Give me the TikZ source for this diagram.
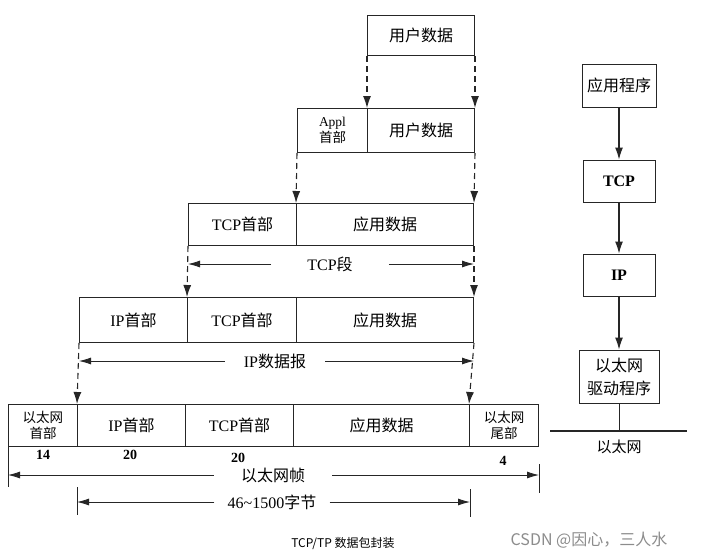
\documentclass[tikz,border=0pt]{standalone}
\usepackage{fontspec}
\setmainfont{Liberation Serif}
\newfontfamily\cjk{Noto Sans CJK SC}
\usetikzlibrary{arrows.meta}
\begin{document}
\begin{tikzpicture}[x=1pt,y=-1pt,
  box/.style={draw=black!85,line width=1pt,inner sep=0pt,anchor=north west,font=\fontsize{16}{18}\selectfont},
  sbox/.style={draw=black!85,line width=1pt,inner sep=0pt,minimum width=72pt,minimum height=42pt,font=\fontsize{16}{18}\selectfont},
  small/.style={font=\fontsize{13.5}{15.5}\selectfont,align=center},
  dasharrow/.style={draw=black!85,line width=1.1pt,dash pattern=on 6pt off 4pt,-{Latex[length=12pt,width=8pt]}},
  solidarrow/.style={draw=black!85,line width=1.1pt,-{Latex[length=12pt,width=8pt]}},
  dimarrow/.style={draw=black!85,line width=0.8pt,-{Latex[length=12pt,width=7pt]}},
  tickline/.style={draw=black!85,line width=0.8pt},
  lbl/.style={inner ysep=0pt,font=\fontsize{16}{18}\selectfont},
  num/.style={font=\bfseries\fontsize{14}{16}\selectfont}]
\fill[white] (0,0) rectangle (702,558);
\useasboundingbox (0,0) rectangle (702,558);
% row 1
\node[box,minimum width=107pt,minimum height=40pt] (u1) at (367,15) {\cjk 用户数据};
% row 2
\node[box,small,minimum width=70pt,minimum height=44pt] (ap) at (297,108) {Appl\\\cjk 首部};
\node[box,minimum width=107pt,minimum height=44pt] (u2) at (367,108) {\cjk 用户数据};
% row 3
\node[box,minimum width=108pt,minimum height=42pt] (tcph) at (188,203) {TCP\cjk 首部};
\node[box,minimum width=177pt,minimum height=42pt] (app3) at (296,203) {\cjk 应用数据};
% row 4
\node[box,minimum width=108pt,minimum height=45pt] (iph4) at (79,297) {IP\cjk 首部};
\node[box,minimum width=109pt,minimum height=45pt] (tcph4) at (187,297) {TCP\cjk 首部};
\node[box,minimum width=177pt,minimum height=45pt] (app4) at (296,297) {\cjk 应用数据};
% row 5
\node[box,small,minimum width=69pt,minimum height=42pt] (eh) at (8,404) {\cjk 以太网\\\cjk 首部};
\node[box,minimum width=108pt,minimum height=42pt] (iph5) at (77,404) {IP\cjk 首部};
\node[box,minimum width=108pt,minimum height=42pt] (tcph5) at (185,404) {TCP\cjk 首部};
\node[box,minimum width=176pt,minimum height=42pt] (app5) at (293,404) {\cjk 应用数据};
\node[box,small,minimum width=69pt,minimum height=42pt] (et) at (469,404) {\cjk 以太网\\\cjk 尾部};
% dashed arrows
\draw[dasharrow] (u1.south west) -- (u2.north west);
\draw[dasharrow] (u1.south east) -- (u2.north east);
\draw[dasharrow] (ap.south west) -- (app3.north west);
\draw[dasharrow] (u2.south east) -- (app3.north east);
\draw[dasharrow] (tcph.south west) -- (tcph4.north west);
\draw[dasharrow] (app3.south east) -- (app4.north east);
\draw[dasharrow] (iph4.south west) -- (iph5.north west);
\draw[dasharrow] (app4.south east) -- (et.north west);
% dimension lines
\node[lbl,inner xsep=36pt] (tseg) at (330,264) {TCP\cjk 段};
\draw[dimarrow] (tseg.west) -- (tcph.south west |- tseg.west);
\draw[dimarrow] (tseg.east) -- (app3.south east |- tseg.east);
\node[lbl,inner xsep=19pt] (ipd) at (275,361) {IP\cjk 数据报};
\draw[dimarrow] (ipd.west) -- (iph4.south west |- ipd.west);
\draw[dimarrow] (ipd.east) -- (app4.south east |- ipd.east);
% numbers
\node[num] (n1) at (43,455) {14};
\node[num] (n2) at (130,455) {20};
\node[num] (n3) at (238,458) {20};
\node[num] (n4) at (503,461) {4};
% frame
\node[lbl,inner xsep=27pt] (ef) at (273,475) {\cjk 以太网帧};
\draw[dimarrow] (ef.west) -- (eh.south west |- ef.west);
\draw[dimarrow] (ef.east) -- (et.south east |- ef.east);
\draw[tickline] (eh.south west) -- ++(0,40);
\draw[tickline] (et.south east) ++(0,17) -- ++(0,29);
\node[lbl,inner xsep=13pt] (pl) at (272,502) {46\textasciitilde 1500\cjk 字节};
\draw[dimarrow] (pl.west) -- (iph5.south west |- pl.west);
\draw[dimarrow] (pl.east) -- (app5.south east |- pl.east);
\draw[tickline] (iph5.south west |- pl.west) ++(0,-15) -- ++(0,28);
\draw[tickline] (app5.south east |- pl.east) ++(0,-13) -- ++(0,28);
% right stack
\node[sbox,minimum width=74pt,minimum height=43pt] (sapp) at (619,85.5) {\cjk 应用程序};
\node[sbox] (stcp) at (619,181) {\bfseries TCP};
\node[sbox] (sip) at (619,275) {\bfseries IP};
\node[sbox,minimum width=80pt,minimum height=53pt,align=center,font=\fontsize{16}{23}\selectfont] (drv) at (619,376.5) {\cjk 以太网\\\cjk 驱动程序};
\draw[solidarrow] (sapp) -- (stcp);
\draw[solidarrow] (stcp) -- (sip);
\draw[solidarrow] (sip) -- (drv);
\coordinate (eL) at (550,431);
\coordinate (eR) at (687,431);
\draw[line width=2.2pt,black!85] (eL) -- (eR);
\draw[line width=1pt,black!85] (drv.south) -- (drv.south |- eL);
\node[font=\fontsize{15}{17}\selectfont] (enet) at (619,447) {\cjk 以太网};
% captions
\node[font=\cjk\fontsize{12}{14}\selectfont] (title) at (343,543) {TCP/TP 数据包封装};
\node[text=black!45,font=\cjk\fontsize{16}{18}\selectfont] (wm) at (589,540) {CSDN @因心，三人水};
\end{tikzpicture}
\end{document}
